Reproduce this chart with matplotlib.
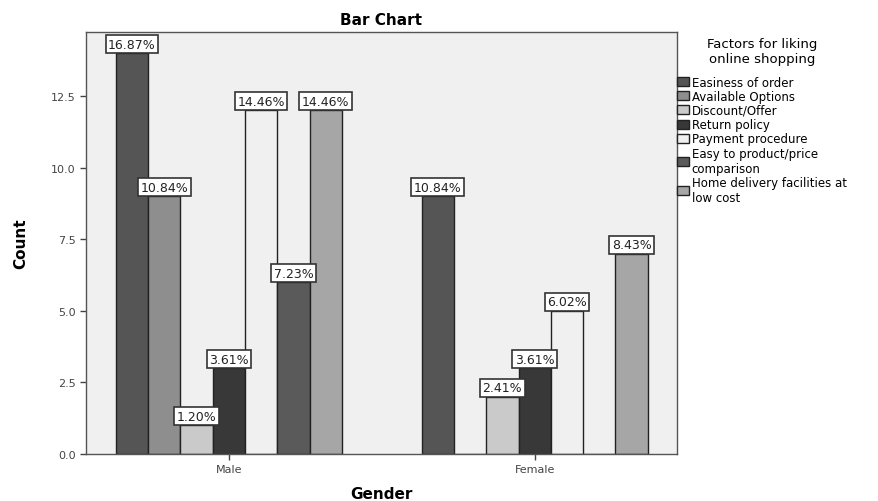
import matplotlib
matplotlib.use("Agg")
import matplotlib.pyplot as plt
from matplotlib.patches import Patch
import numpy as np

groups = ["Male", "Female"]
factors = ["Easiness of order", "Available Options", "Discount/Offer", "Return policy",
           "Payment procedure", "Easy to product/price\ncomparison",
           "Home delivery facilities at\nlow cost"]
male_counts = [14, 9, 1, 3, 12, 6, 12]
female_counts = [9, 0, 2, 3, 5, 0, 7]
male_pct = ["16.87%", "10.84%", "1.20%", "3.61%", "14.46%", "7.23%", "14.46%"]
female_pct = ["10.84%", "", "2.41%", "3.61%", "6.02%", "", "8.43%"]
colors = ["#555555", "#8e8e8e", "#cacaca", "#383838", "#f0f0f0", "#5a5a5a", "#a6a6a6"]

fig = plt.figure(figsize=(8.79, 5.02), dpi=100)
ax = fig.add_axes([0.0978, 0.0936, 0.672, 0.840])
ax.set_facecolor("#f0f0f0")

w = 0.1056
x = np.arange(len(groups))
counts = np.array([male_counts, female_counts])
pcts = [male_pct, female_pct]
for i, f in enumerate(factors):
    pos = x + (i - 3) * w
    vals = counts[:, i]
    ax.bar(pos, vals, width=w, color=colors[i], edgecolor="#222222", linewidth=1.0, zorder=2)
    for g in range(len(groups)):
        if vals[g] > 0:
            ax.annotate(pcts[g][i], (pos[g], vals[g]), xytext=(0, 6.5), textcoords="offset points",
                        ha="center", va="center", fontsize=9, color="#222222", zorder=4,
                        bbox=dict(boxstyle="square,pad=0.2", fc="white", ec="#333333", lw=1.2))

ax.set_xlim(-0.467, 1.464)
ax.set_ylim(0, 14.73)
ax.set_yticks([0, 2.5, 5, 7.5, 10, 12.5])
ax.set_yticklabels(["0.0", "2.5", "5.0", "7.5", "10.0", "12.5"])
ax.set_xticks(x)
ax.set_xticklabels(groups)
ax.tick_params(axis="both", labelsize=8, colors="#444444", length=4, width=1)
for s in ax.spines.values():
    s.set_color("#555555")
    s.set_linewidth(1.0)

ax.set_title("Bar Chart", fontsize=11, fontweight="bold", pad=6)
ax.set_ylabel("Count", fontsize=11, fontweight="bold", labelpad=16)
ax.set_xlabel("Gender", fontsize=11, fontweight="bold", labelpad=8)

handles = [Patch(facecolor=c, edgecolor="#222222", lw=1) for c in colors]
leg = fig.legend(handles, factors, loc="upper left", bbox_to_anchor=(0.768, 0.93),
                 title="Factors for liking\nonline shopping", fontsize=8.5, title_fontsize=9.5,
                 frameon=False, handlelength=1.0, handleheight=0.8, handletextpad=0.2,
                 labelspacing=0.1, borderaxespad=0, borderpad=0.2)
leg.get_title().set_multialignment("center")
leg._legend_box.sep = 8

fig.savefig("out.png", dpi=100)
